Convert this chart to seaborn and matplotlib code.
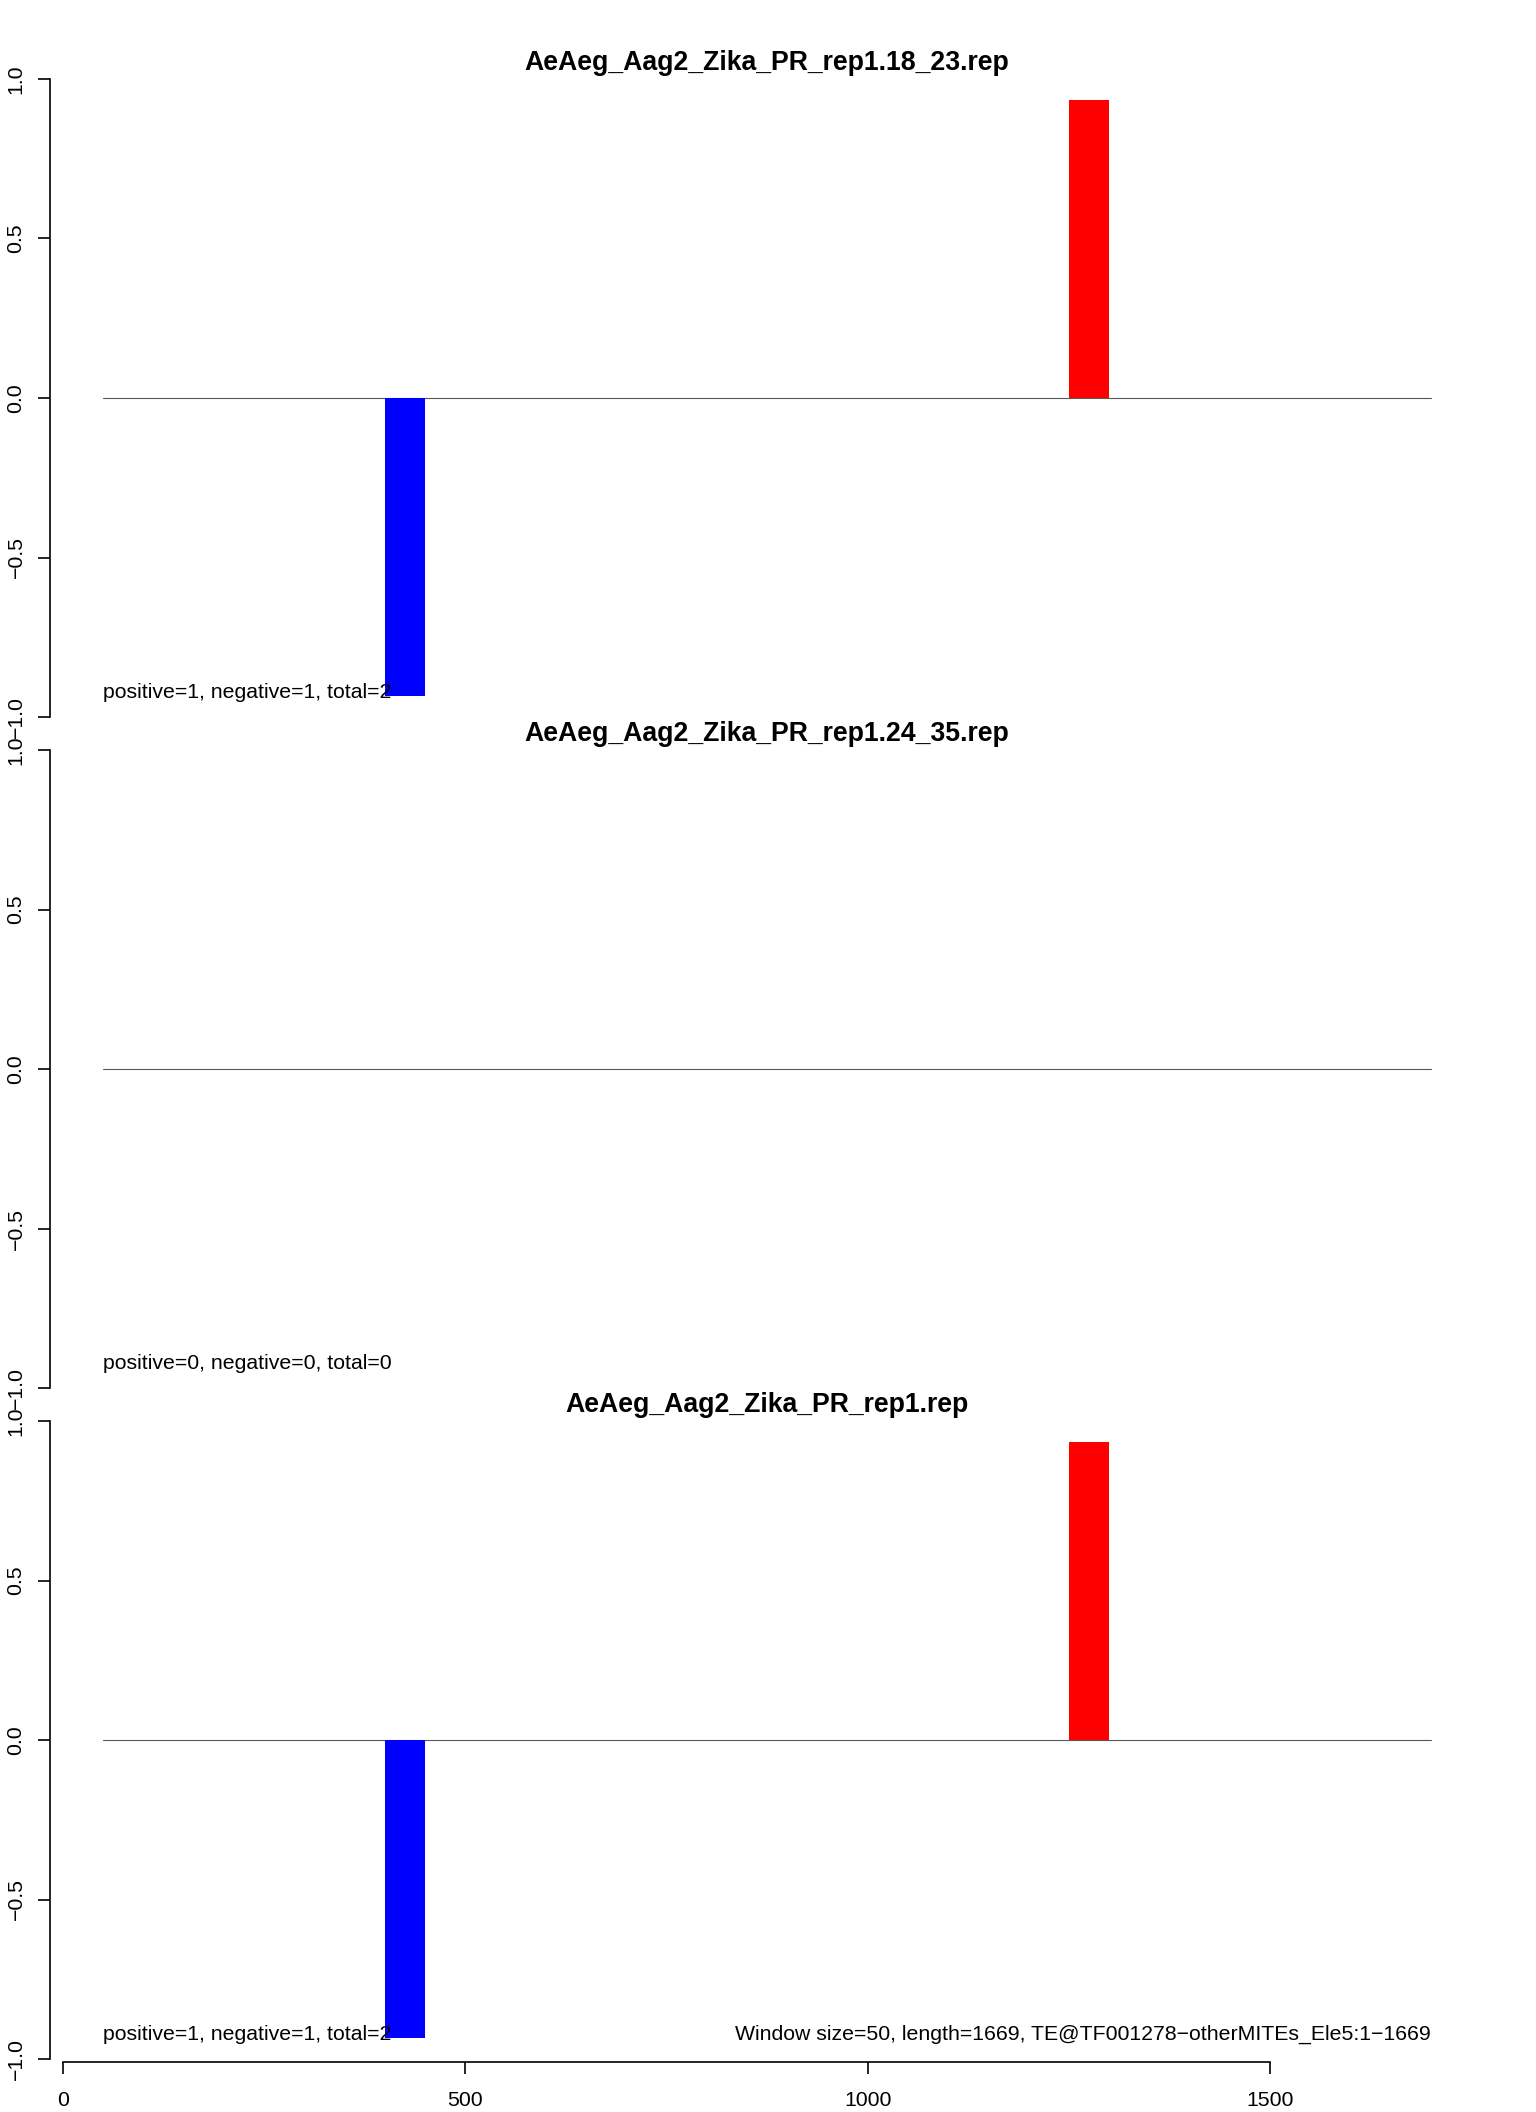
import numpy as np
import pandas as pd
import matplotlib
matplotlib.use("Agg")
import matplotlib.pyplot as plt
import seaborn as sns

# ---------------- data ----------------
panel_titles = [
    "AeAeg_Aag2_Zika_PR_rep1.18_23.rep",
    "AeAeg_Aag2_Zika_PR_rep1.24_35.rep",
    "AeAeg_Aag2_Zika_PR_rep1.rep",
]
bar_starts = [[400, 1250], [], [400, 1250]]
bar_values = [[-0.935, 0.935], [], [-0.935, 0.935]]
positive_counts = [1, 0, 1]
negative_counts = [1, 0, 1]
window_size = 50
seq_length = 1669
te_label = "TE@TF001278\u2212otherMITEs_Ele5:1\u22121669"
baseline_range = [50, 1700]
x_ticks = [0, 500, 1000, 1500]
y_ticks = [-1.0, -0.5, 0.0, 0.5, 1.0]

# ---------------- style ----------------
sns.set_theme(style="ticks")
plt.rcParams["font.family"] = ["Liberation Sans", "DejaVu Sans"]
plt.rcParams["axes.unicode_minus"] = True

W, H = 1536, 2112
fig = plt.figure(figsize=(W / 100, H / 100), dpi=100)
fig.patch.set_facecolor("white")

FS = 15.3
TFS = 19.2
LW = 1.2
x_lim = (-16, 1766)
y_pad = 0.01
px_per_unit = 319.0
left_px, right_px = 50, 1484
tick_top_px = [79, 750, 1421]

for i, title in enumerate(panel_titles):
    top = tick_top_px[i] - y_pad * px_per_unit
    bottom = tick_top_px[i] + 2 * px_per_unit + y_pad * px_per_unit
    ax = fig.add_axes([left_px / W, 1 - bottom / H, (right_px - left_px) / W, (bottom - top) / H])
    ax.set_facecolor("white")

    # zero baseline
    ax.plot(baseline_range, [0, 0], color="#5a5a5a", lw=0.8, zorder=1)

    if len(bar_starts[i]) > 0:
        df = pd.DataFrame({
            "center": np.array(bar_starts[i]) + window_size / 2,
            "value": bar_values[i],
        })
        df["sign"] = np.where(df["value"] >= 0, "positive", "negative")
        centers = np.sort(df["center"].unique())
        spacing = np.min(np.diff(centers)) if len(centers) > 1 else 1
        sns.barplot(data=df, x="center", y="value", hue="sign",
                    palette={"positive": "#ff0000", "negative": "#0000ff"},
                    native_scale=True, width=window_size / spacing, dodge=False,
                    errorbar=None, linewidth=0, saturation=1, legend=False,
                    ax=ax, zorder=2)

    ax.set_xlim(*x_lim)
    ax.set_ylim(-1 - y_pad, 1 + y_pad)
    ax.set_xlabel("")
    ax.set_ylabel("")

    for s in ["top", "right"]:
        ax.spines[s].set_visible(False)
    ax.spines["left"].set_bounds(-1, 1)
    ax.spines["left"].set_linewidth(LW)
    ax.spines["left"].set_color("black")

    ax.set_yticks(y_ticks)
    ax.set_yticklabels([f"{v:.1f}".replace("-", "\u2212") for v in y_ticks],
                       rotation=90, va="center", fontsize=FS)
    ax.tick_params(axis="y", length=8.6, width=LW, pad=9, colors="black")

    if i == len(panel_titles) - 1:
        ax.spines["bottom"].set_bounds(x_ticks[0], x_ticks[-1])
        ax.spines["bottom"].set_linewidth(LW)
        ax.spines["bottom"].set_color("black")
        ax.set_xticks(x_ticks)
        ax.set_xticklabels([str(t) for t in x_ticks], fontsize=FS)
        ax.tick_params(axis="x", length=8.6, width=LW, pad=12, colors="black")
        ax.text(baseline_range[1], -0.94,
                f"Window size={window_size}, length={seq_length}, {te_label}",
                ha="right", va="baseline", fontsize=FS, color="black")
    else:
        ax.spines["bottom"].set_visible(False)
        ax.set_xticks([])

    ax.text(baseline_range[0], -0.94,
            f"positive={positive_counts[i]}, negative={negative_counts[i]}, "
            f"total={positive_counts[i] + negative_counts[i]}",
            ha="left", va="baseline", fontsize=FS, color="black", zorder=3)

    ax.set_title(title, fontsize=TFS, fontweight="bold", pad=0.6, color="black")
    ax.grid(False)

fig.savefig("out.png", dpi=100, facecolor="white")
